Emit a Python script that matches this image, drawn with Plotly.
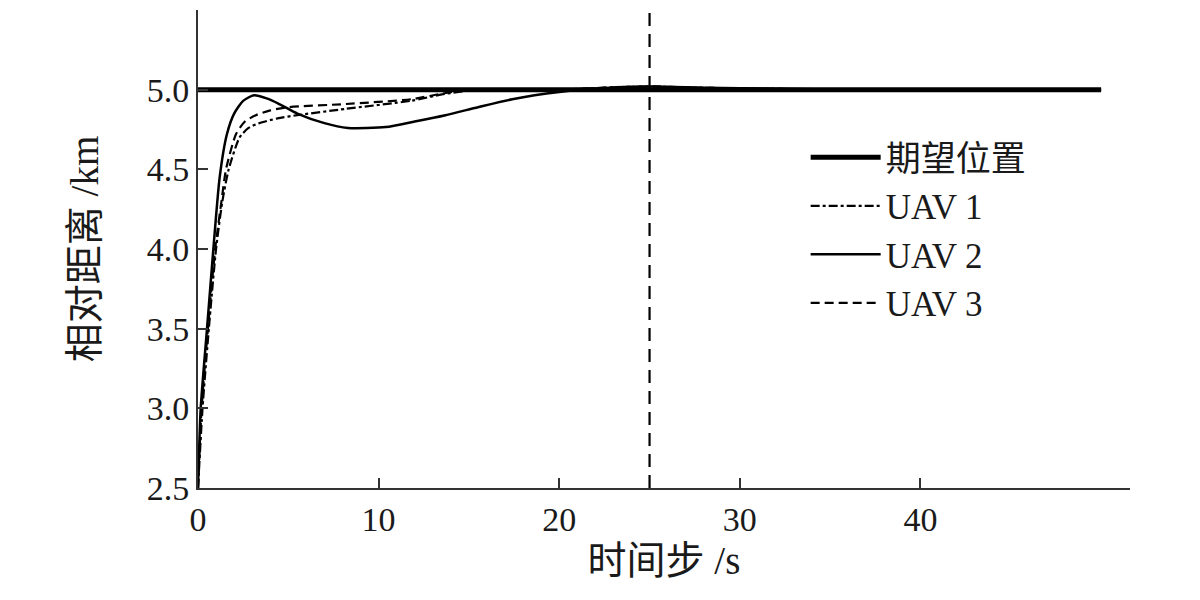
import plotly.graph_objects as go

# Desired position
t_ref = [0, 50]
y_ref = [5.0, 5.0]

# UAV 1 (dash-dot)
t_uav1 = [0, 0.25, 0.6, 1.0, 1.35, 1.7, 2.3, 2.8, 3.4, 4.4, 5.5, 8.2, 11.8, 13.5, 15.5, 20, 23, 25, 28, 32, 36, 50]
y_uav1 = [2.5, 3.0, 3.5, 4.0, 4.3, 4.5, 4.7, 4.76, 4.79, 4.82, 4.84, 4.88, 4.93, 4.97, 5.0, 5.0, 5.015, 5.02, 5.012, 5.005, 5.0, 5.0]

# UAV 2 (solid)
t_uav2 = [0, 0.15, 0.5, 0.85, 1.2, 1.6, 2.0, 2.5, 3.1, 3.8, 4.5, 5.5, 7, 8.3, 10.4, 12, 13.7, 15.5, 17.4, 20, 22.5, 25, 28, 32, 36, 50]
y_uav2 = [2.5, 3.0, 3.5, 4.0, 4.45, 4.72, 4.85, 4.93, 4.965, 4.945, 4.91, 4.85, 4.79, 4.76, 4.765, 4.8, 4.84, 4.89, 4.94, 4.985, 5.01, 5.02, 5.012, 5.005, 5.0, 5.0]

# UAV 3 (dashed)
t_uav3 = [0, 0.2, 0.55, 0.95, 1.3, 1.55, 2.1, 2.6, 3.2, 4.0, 5.0, 8.2, 11.8, 13.5, 15.0, 20, 23, 25, 28, 32, 36, 50]
y_uav3 = [2.5, 3.0, 3.5, 4.0, 4.3, 4.5, 4.72, 4.8, 4.84, 4.87, 4.89, 4.91, 4.94, 4.975, 5.0, 5.0, 5.015, 5.02, 5.012, 5.005, 5.0, 5.0]

x_ticks = [0, 10, 20, 30, 40]
y_ticks = [2.5, 3.0, 3.5, 4.0, 4.5, 5.0]
y_tick_text = ["2.5", "3.0", "3.5", "4.0", "4.5", "5.0"]
marker_time = 25

FONT = "Liberation Serif, Times New Roman, Noto Sans CJK SC, serif"

fig = go.Figure()
fig.add_trace(go.Scatter(x=t_ref, y=y_ref, mode="lines", name="期望位置",
                         line=dict(color="black", width=5)))
fig.add_trace(go.Scatter(x=t_uav1, y=y_uav1, mode="lines", name="UAV 1",
                         line=dict(color="black", width=2.2, dash="dashdot", shape="spline", smoothing=0.6)))
fig.add_trace(go.Scatter(x=t_uav2, y=y_uav2, mode="lines", name="UAV 2",
                         line=dict(color="black", width=2.5, shape="spline", smoothing=0.6)))
fig.add_trace(go.Scatter(x=t_uav3, y=y_uav3, mode="lines", name="UAV 3",
                         line=dict(color="black", width=2.2, dash="9px,5px", shape="spline", smoothing=0.6)))

fig.add_shape(type="line", xref="x", yref="paper", x0=marker_time, x1=marker_time, y0=0, y1=1,
              line=dict(color="black", width=2.2, dash="13px,8px"))

axis_common = dict(showline=True, linecolor="#333333", linewidth=2, ticks="inside", ticklen=10,
                   tickwidth=1.5, tickcolor="#333333", showgrid=False, zeroline=False,
                   tickfont=dict(family=FONT, size=34, color="#1a1a1a"))

fig.update_layout(
    width=1200, height=600,
    margin=dict(l=190, r=78, t=2, b=120),
    paper_bgcolor="white", plot_bgcolor="white",
    font=dict(family=FONT, color="#1a1a1a"),
    xaxis=dict(range=[0, 51.6], tickvals=x_ticks,
               title=dict(text="时间步 /s", font=dict(family=FONT, size=39), standoff=10),
               **axis_common),
    yaxis=dict(range=[2.5, 5.5], tickvals=y_ticks, ticktext=y_tick_text,
               title=dict(text="相对距离 /km", font=dict(family=FONT, size=39), standoff=36),
               **axis_common),
    legend=dict(x=0.652, y=0.753, xanchor="left", yanchor="top", bgcolor="rgba(0,0,0,0)",
                font=dict(family=FONT, size=35, color="#1a1a1a"), itemwidth=70,
                tracegroupgap=0),
    showlegend=True,
)

fig.write_html("out.html")
